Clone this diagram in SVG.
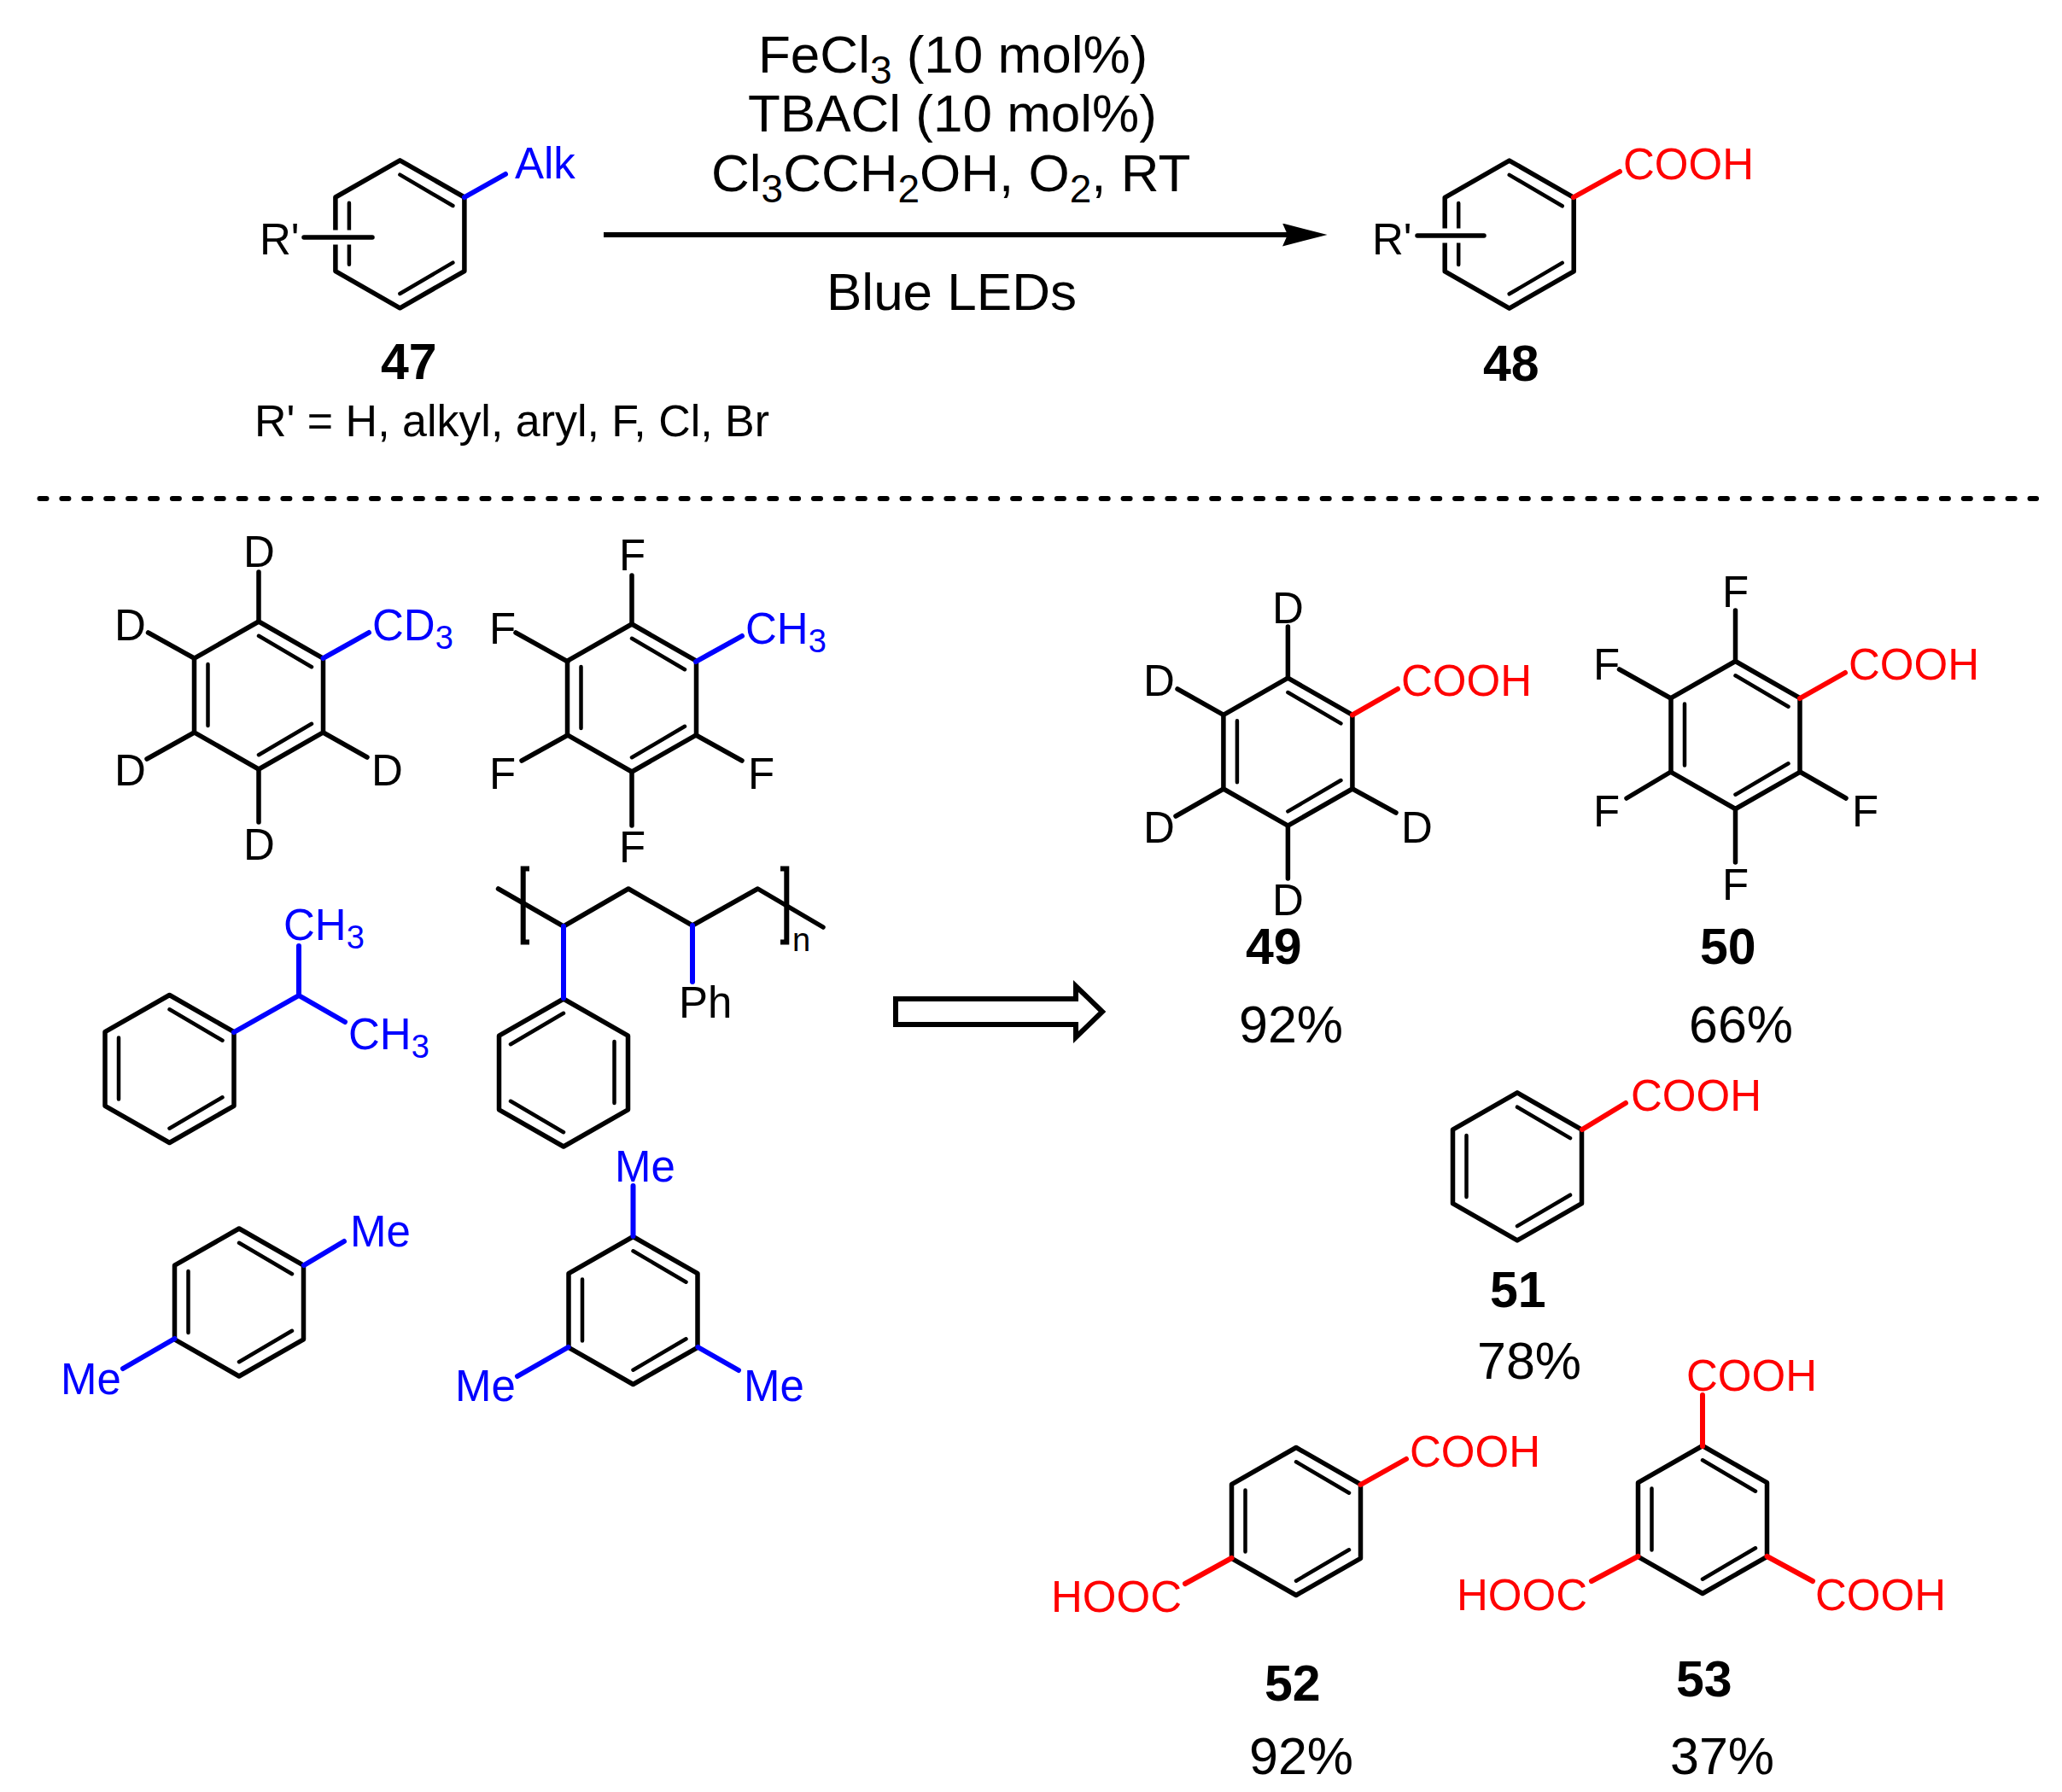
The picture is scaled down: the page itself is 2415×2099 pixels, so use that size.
<svg xmlns="http://www.w3.org/2000/svg" width="2415" height="2099" viewBox="0 0 2415 2099">
<style>
text{font-family:"Liberation Sans",Arial,sans-serif;fill:#000}
.m{font-size:51px;transform:translateY(1.5px)}
.n{font-size:59px;font-weight:bold}
.y{font-size:61px;transform:translateY(1px)}
.r{font-size:62px}
.blue{fill:#00f}
.red{fill:#f00}
.k{stroke:#000;stroke-width:5.5;fill:none;stroke-linecap:round;stroke-linejoin:round}
.bb{stroke:#00f;stroke-width:6;fill:none;stroke-linecap:round;stroke-linejoin:round}
.rb{stroke:#f00;stroke-width:6;fill:none;stroke-linecap:round;stroke-linejoin:round}
.inner{stroke:#000;stroke-width:4.5;fill:none;stroke-linecap:round}
.halo{stroke:#fff;stroke-width:17;fill:none}
.br{stroke:#000;stroke-width:6;fill:none}
</style>
<defs>
<g id="ringA">
<polygon class="k" points="0,-86.5 75.5,-43.3 75.5,43.3 0,86.5 -75.5,43.3 -75.5,-43.3"/>
<path class="inner" d="M0,-69.7L62,-33.3M-59.5,-36.5V35.5M0,69.7L62,33.3"/>
</g>
<g id="ringB">
<polygon class="k" points="0,-86.5 75.5,-43.3 75.5,43.3 0,86.5 -75.5,43.3 -75.5,-43.3"/>
<path class="inner" d="M0,-69.7L-62,-33.3M59.5,-36.5V35.5M0,69.7L-62,33.3"/>
</g>
<marker id="head" markerUnits="userSpaceOnUse" viewBox="0 0 53 27" refX="6" refY="13.5" markerWidth="53" markerHeight="27" orient="auto">
<path d="M0,0L52.5,13.5L0,27L6,13.5Z" fill="#000"/>
</marker>
</defs>
<g id="connectors">
<line x1="707" y1="275" x2="1508" y2="275" stroke="#000" stroke-width="6" marker-end="url(#head)"/>
<polygon points="1049,1170 1260,1170 1260,1155 1291,1185 1260,1215 1260,1200 1049,1200" fill="#fff" stroke="#000" stroke-width="6" stroke-linejoin="miter"/>
<line x1="46.5" y1="584" x2="2385" y2="584" stroke="#000" stroke-width="6" stroke-linecap="round" stroke-dasharray="8 17.9"/>
</g>
<g id="conditions">
<text class="r" x="888" y="85">FeCl<tspan font-size="46" dy="13">3</tspan><tspan dy="-13"> (10 mol%)</tspan></text>
<text class="r" x="876" y="154">TBACl (10 mol%)</text>
<text class="r" x="833" y="224">Cl<tspan font-size="46" dy="13">3</tspan><tspan dy="-13">CCH</tspan><tspan font-size="46" dy="13">2</tspan><tspan dy="-13">OH, O</tspan><tspan font-size="46" dy="13">2</tspan><tspan dy="-13">, RT</tspan></text>
<text class="r" x="968" y="363">Blue LEDs</text>
</g>
<g id="mol-47">
<use href="#ringA" x="468.4" y="274.3"/>
<line class="halo" x1="385" y1="278" x2="420" y2="278"/>
<line class="k" x1="356" y1="278" x2="436" y2="278"/>
<line class="bb" x1="544" y1="231" x2="592" y2="204"/>
<text class="m blue" x="603" y="207">Alk</text>
<text class="m" x="304" y="296">R'</text>
<text class="n" x="446" y="444">47</text>
<text class="m" x="298" y="509" textLength="603" lengthAdjust="spacingAndGlyphs">R' = H, alkyl, aryl, F, Cl, Br</text>
</g>
<g id="mol-48">
<use href="#ringA" x="1767.7" y="274.6"/>
<line class="halo" x1="1684" y1="276" x2="1716" y2="276"/>
<line class="k" x1="1660" y1="276" x2="1738" y2="276"/>
<line class="rb" x1="1843" y1="231" x2="1897" y2="201"/>
<text class="m red" x="1901" y="208">COOH</text>
<text class="m" x="1607" y="296">R'</text>
<text class="n" x="1737" y="446">48</text>
</g>
<g id="sub-cd3">
<use href="#ringA" x="303" y="814.5"/>
<path class="k" d="M303,728V670M227.5,771L173.5,741M227.5,858L172,889M378.5,858L430,887M303,901V963"/>
<line class="bb" x1="378.5" y1="771" x2="432" y2="741"/>
<text class="m" x="285" y="662">D</text>
<text class="m" x="134" y="748">D</text>
<text class="m" x="134" y="918">D</text>
<text class="m" x="435" y="918">D</text>
<text class="m" x="285" y="1005">D</text>
<text class="m blue" x="436" y="748">CD<tspan font-size="38" dy="10">3</tspan></text>
</g>
<g id="sub-f">
<use href="#ringA" x="740" y="817.5"/>
<path class="k" d="M740,731V674M665,775L604,741M665,861L611,891M815,861L869,891M740,904V967"/>
<line class="bb" x1="815" y1="775" x2="869" y2="745"/>
<text class="m" x="725" y="666">F</text>
<text class="m" x="573" y="752">F</text>
<text class="m" x="573" y="922">F</text>
<text class="m" x="876" y="922">F</text>
<text class="m" x="725" y="1008">F</text>
<text class="m blue" x="873" y="752">CH<tspan font-size="38" dy="10">3</tspan></text>
</g>
<g id="sub-cumene">
<use href="#ringB" x="198.5" y="1252" transform="translate(397,0) scale(-1,1)"/>
<path class="bb" d="M274,1209L350,1166V1108M350,1166L404,1197"/>
<text class="m blue" x="332" y="1099">CH<tspan font-size="38" dy="10">3</tspan></text>
<text class="m blue" x="408" y="1227">CH<tspan font-size="38" dy="10">3</tspan></text>
</g>
<g id="sub-polymer">
<use href="#ringB" x="660" y="1256.5"/>
<path class="k" d="M583.5,1041L660,1085L736,1041L811,1084L887.5,1041L964,1086"/>
<path class="br" d="M620,1017.5H612.7V1103.5H620M914,1017.5H921.3V1103.5H914"/>
<line class="bb" x1="660" y1="1085" x2="660" y2="1169"/>
<line class="bb" x1="811" y1="1084" x2="811" y2="1150"/>
<text class="m" x="795" y="1190">Ph</text>
<text font-size="38" x="928" y="1114">n</text>
</g>
<g id="sub-xylene">
<use href="#ringA" x="280" y="1525.5"/>
<path class="bb" d="M356,1482L403,1454M204.5,1568L144,1603"/>
<text class="m blue" x="410" y="1458">Me</text>
<text class="m blue" x="71" y="1631">Me</text>
</g>
<g id="sub-mesitylene">
<use href="#ringA" x="741.5" y="1535"/>
<path class="bb" d="M741.5,1448V1389M665.5,1578L606,1612M817.5,1578L865,1605"/>
<text class="m blue" x="720" y="1382">Me</text>
<text class="m blue" x="533" y="1639">Me</text>
<text class="m blue" x="871" y="1639">Me</text>
</g>
<g id="prod-49">
<use href="#ringA" x="1508.4" y="880.7"/>
<path class="k" d="M1508.4,794V734M1433,837.4L1379,807M1433,924L1377,956M1584,924L1635,952M1508.4,967V1029"/>
<line class="rb" x1="1584" y1="837.4" x2="1637" y2="807"/>
<text class="m" x="1490" y="728">D</text>
<text class="m" x="1339" y="813">D</text>
<text class="m" x="1339" y="985">D</text>
<text class="m" x="1641" y="985">D</text>
<text class="m" x="1490" y="1070">D</text>
<text class="m red" x="1641" y="813">COOH</text>
<text class="n" x="1459" y="1129">49</text>
<text class="y" x="1451" y="1220">92%</text>
</g>
<g id="prod-50">
<use href="#ringA" x="2032.5" y="861"/>
<path class="k" d="M2032.5,775V715M1957,818L1896.5,784M1957,904L1905,935M2108,904L2162,935M2032.5,947V1010"/>
<line class="rb" x1="2108" y1="818" x2="2161" y2="788"/>
<text class="m" x="2017" y="709">F</text>
<text class="m" x="1866" y="794">F</text>
<text class="m" x="1866" y="966">F</text>
<text class="m" x="2169" y="966">F</text>
<text class="m" x="2017" y="1052">F</text>
<text class="m red" x="2165" y="794">COOH</text>
<text class="n" x="1991" y="1129">50</text>
<text class="y" x="1978" y="1220">66%</text>
</g>
<g id="prod-51">
<use href="#ringA" x="1777" y="1366.4"/>
<line class="rb" x1="1853" y1="1323" x2="1904" y2="1292"/>
<text class="m red" x="1910" y="1299">COOH</text>
<text class="n" x="1745" y="1531">51</text>
<text class="y" x="1730" y="1614">78%</text>
</g>
<g id="prod-52">
<use href="#ringA" x="1518" y="1782"/>
<path class="rb" d="M1593.5,1739L1647,1709M1442.5,1825L1388,1855"/>
<text class="m red" x="1651" y="1716">COOH</text>
<text class="m red" x="1231" y="1886">HOOC</text>
<text class="n" x="1481" y="1992">52</text>
<text class="y" x="1463" y="2077">92%</text>
</g>
<g id="prod-53">
<use href="#ringA" x="1994" y="1780"/>
<path class="rb" d="M1994,1694V1634M1918.5,1823L1864,1852M2069.5,1823L2123,1852"/>
<text class="m red" x="1975" y="1627">COOH</text>
<text class="m red" x="1706" y="1884">HOOC</text>
<text class="m red" x="2126" y="1884">COOH</text>
<text class="n" x="1963" y="1987">53</text>
<text class="y" x="1956" y="2077">37%</text>
</g>
</svg>
